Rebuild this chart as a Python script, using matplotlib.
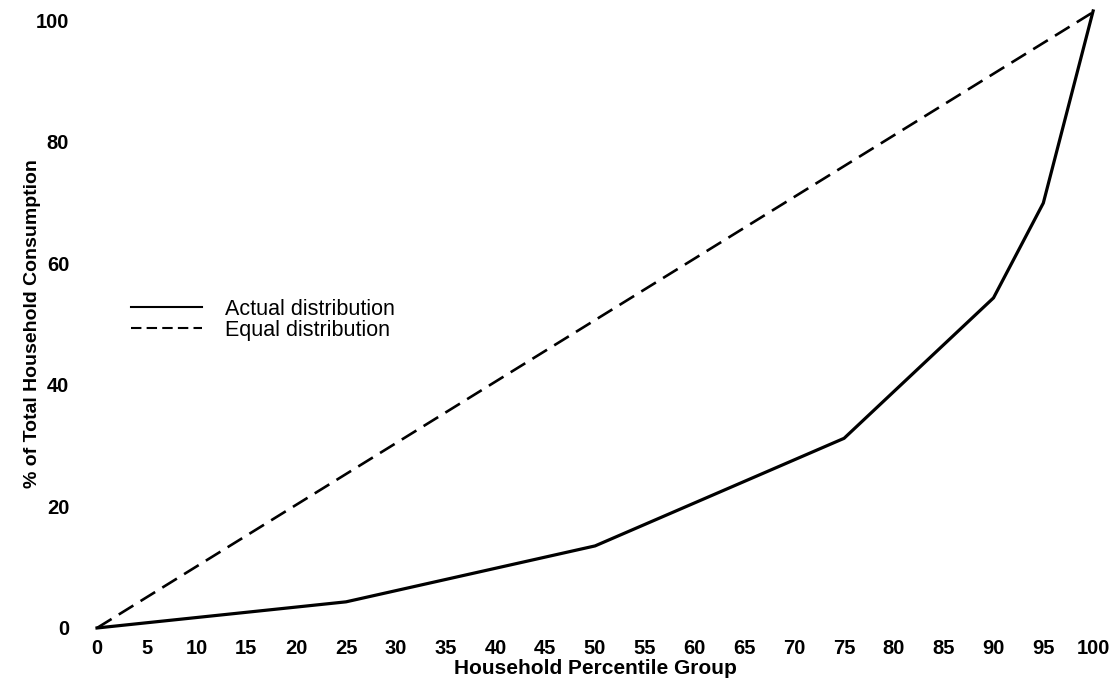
import matplotlib
matplotlib.use('Agg')
import matplotlib.pyplot as plt
from matplotlib.lines import Line2D

plt.rcParams['font.family'] = ['Liberation Sans', 'DejaVu Sans']

# percentile groups and cumulative share of consumption
pct = [0, 25, 50, 75, 90, 95, 100]
actual = [0, 4.3, 13.5, 31.2, 54.3, 69.9, 101.5]
equal_x = [0, 100]
equal_y = [0, 101.3]

xticks = list(range(0, 101, 5))
yticks = [0, 20, 40, 60, 80, 100]

fig = plt.figure(figsize=(11.2, 6.8), dpi=100)
ax = fig.add_axes([0.0866, 0.0765, 0.8894, 0.894])

ax.plot(pct, actual, color='black', lw=2.3, solid_joinstyle='miter', clip_on=False)
ax.plot(equal_x, equal_y, color='black', lw=1.9, linestyle=(0, (6.5, 3.2)), clip_on=False)

ax.set_xlim(0, 100)
ax.set_ylim(0, 100)
ax.set_xticks(xticks)
ax.set_yticks(yticks)
ax.tick_params(axis='both', length=0, labelsize=14.5)
ax.tick_params(axis='x', pad=8)
ax.tick_params(axis='y', pad=20)
for lab in ax.get_xticklabels() + ax.get_yticklabels():
    lab.set_fontweight('bold')
for s in ax.spines.values():
    s.set_visible(False)

ax.set_xlabel('Household Percentile Group', fontsize=15, fontweight='bold', labelpad=1)
ax.set_ylabel('% of Total Household Consumption', fontsize=14, fontweight='bold', labelpad=-4)

handles = [Line2D([], [], color='black', lw=1.5),
           Line2D([], [], color='black', lw=1.5, linestyle=(0, (5, 2.5)))]
ax.legend(handles, ['Actual distribution', 'Equal distribution'],
          loc='center left', bbox_to_anchor=(120 / 1120, 1 - 320 / 680),
          bbox_transform=fig.transFigure, frameon=False, fontsize=15.5,
          handlelength=3.3, handletextpad=1.1, labelspacing=0.0, borderpad=0)

fig.savefig('out.png', dpi=100)
